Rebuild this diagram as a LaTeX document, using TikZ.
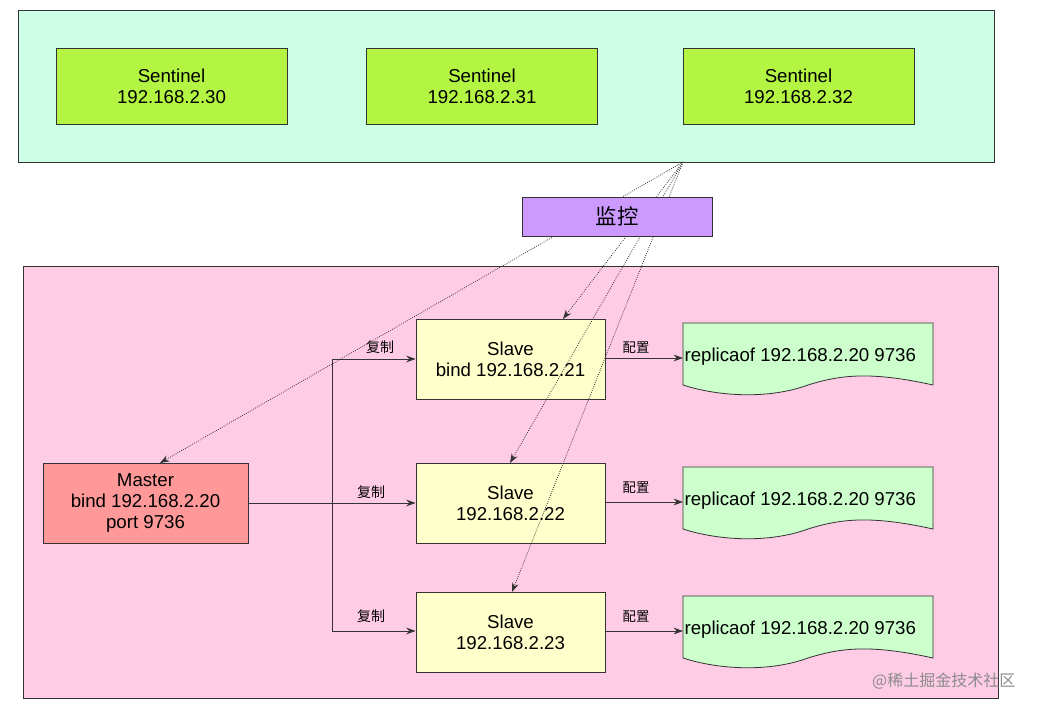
\documentclass[tikz,border=0pt]{standalone}
\usepackage{fontspec}
\setmainfont{Liberation Sans}
\newfontfamily\cjk{Noto Sans CJK SC}
\usetikzlibrary{arrows.meta}
\definecolor{topbg}{HTML}{CCFFE6}
\definecolor{sent}{HTML}{B3F542}
\definecolor{mon}{HTML}{CC99FF}
\definecolor{pinkbg}{HTML}{FFCCE6}
\definecolor{mast}{HTML}{FF9999}
\definecolor{slv}{HTML}{FFFFCC}
\definecolor{docc}{HTML}{CCFFCC}
\begin{document}
\begin{tikzpicture}[x=0.75pt,y=-0.75pt,
  box/.style={draw=black!80,line width=0.6pt,font=\fontsize{14}{16}\selectfont,align=center,inner sep=0pt},
  arr/.style={-{Stealth[length=7pt,width=5pt]},line width=0.6pt,draw=black!80,fill=black!80},
  dot/.style={densely dotted,line width=0.6pt,draw=black!80,-{Stealth[length=7pt,width=5pt]}},
  lbl/.style={font=\cjk\fontsize{10.5}{12}\selectfont}]
\useasboundingbox (0,0) rectangle (1040,711);
\fill[white] (0,0) rectangle (1040,711);
\draw[fill=topbg,line width=0.6pt,draw=black!80] (18,10) rectangle (994,162);
\draw[fill=pinkbg,line width=0.6pt,draw=black!80] (23,266) rectangle (998,698);
\coordinate (src) at (683,162);
% sentinels
\node[box,fill=sent,minimum width=173.25pt,minimum height=57pt] (s0) at (171.5,86) {Sentinel\\192.168.2.30};
\node[box,fill=sent,minimum width=173.25pt,minimum height=57pt] (s1) at (482,86) {Sentinel\\192.168.2.31};
\node[box,fill=sent,minimum width=173.25pt,minimum height=57pt] (s2) at (798.5,86) {Sentinel\\192.168.2.32};
% master & slaves
\node[box,fill=mast,minimum width=153.75pt,minimum height=60pt] (m) at (145.5,503) {Master\\bind 192.168.2.20\\port 9736};
\node[box,fill=slv,minimum width=141.75pt,minimum height=60pt] (a) at (510.5,359) {Slave\\bind 192.168.2.21};
\node[box,fill=slv,minimum width=141.75pt,minimum height=60pt] (b) at (510.5,503) {Slave\\192.168.2.22};
\node[box,fill=slv,minimum width=141.75pt,minimum height=60pt] (c) at (510.5,632) {Slave\\192.168.2.23};
% dotted monitoring
\draw[dot] (src) -- (160,463);
\draw[dot] (src) -- (563,319);
\draw[dot] (src) -- (510,463);
\draw[dot] (src) -- (512,592);
\node[box,fill=mon,minimum width=142.5pt,minimum height=29.25pt,font=\cjk\fontsize{16}{18}\selectfont] (mn) at (617,216.5) {监控};
% replication
\coordinate (j1) at (332,359);
\coordinate (j3) at (332,631);
\draw[arr] (m.east) -- (b.west);
\draw[line width=0.6pt,draw=black!80] (j1) -- (j3);
\draw[arr] (j1) -- (a.west|-j1);
\draw[arr] (j3) -- (c.west|-j3);
\node[lbl] at (380,347) {复制};
\node[lbl] at (371,492) {复制};
\node[lbl] at (371,616) {复制};
% documents
\foreach \n/\y/\s in {d1/323/a,d2/467/b,d3/596/c}{
  \draw[fill=docc,line width=0.6pt,draw=black!80] (683,\y) -- (933,\y) -- (933,\y+62)
     .. controls (870,\y+48) and (840,\y+52) .. (808,\y+62)
     .. controls (770,\y+76) and (720,\y+74) .. (683,\y+62) -- cycle;
  \coordinate (\n) at (683,\y+35);
  \node[font=\fontsize{14}{16}\selectfont,anchor=west,inner sep=1pt] at (683,\y+34) {replicaof 192.168.2.20 9736};
  \draw[arr] (\s.east|-\n) -- (\n);
}
\node[font=\cjk\fontsize{10}{12}\selectfont] at (636,348) {配置};
\node[font=\cjk\fontsize{10}{12}\selectfont] at (636,488) {配置};
\node[font=\cjk\fontsize{10}{12}\selectfont] at (636,617) {配置};
\node[font=\cjk\fontsize{12}{14}\selectfont,text=black!45,anchor=east] at (1020,681) {@稀土掘金技术社区};
\end{tikzpicture}
\end{document}
